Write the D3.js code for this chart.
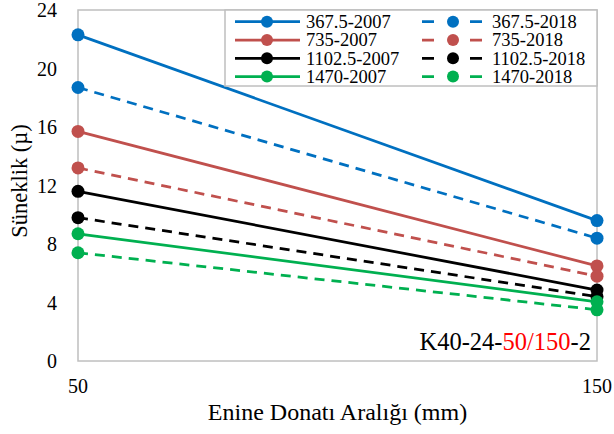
<!DOCTYPE html>
<html>
<head>
<meta charset="utf-8">
<script src="https://cdn.jsdelivr.net/npm/d3@7"></script>
<style>
  body { margin: 0; background: #fff; }
</style>
</head>
<body>
<div id="chart"></div>
<script>
// x values (spacing, mm)
var spacing = [50, 150]
var yTicks = [0, 4, 8, 12, 16, 20, 24]

// series in excel order (legend fills row by row)
var names = ['367.5-2007', '367.5-2018', '735-2007', '735-2018',
             '1102.5-2007', '1102.5-2018', '1470-2007', '1470-2018']
var colors = ['#0070C0', '#0070C0', '#C0504D', '#C0504D',
              '#000000', '#000000', '#00B050', '#00B050']
var dashed = [false, true, false, true, false, true, false, true]
var values = [
  [22.3, 9.6],
  [18.7, 8.4],
  [15.7, 6.5],
  [13.2, 5.8],
  [11.6, 4.85],
  [9.8, 4.4],
  [8.7, 4.05],
  [7.4, 3.5]
]

var width = 614, height = 434
var margin = {top: 10, right: 17, bottom: 73, left: 78}

var svg = d3.select("#chart").append("svg")
  .attr("width", width)
  .attr("height", height)
  .attr("font-family", "'Liberation Serif', 'Times New Roman', Times, serif")

var x = d3.scaleLinear().domain([50, 150]).range([margin.left, width - margin.right])
var y = d3.scaleLinear().domain([0, 24]).range([height - margin.bottom, margin.top])

// plot area outline
svg.append("rect")
  .attr("x", x(50)).attr("y", y(24))
  .attr("width", x(150) - x(50)).attr("height", y(0) - y(24))
  .attr("fill", "none").attr("stroke", "#bfbfbf").attr("stroke-width", 1.5)

// y ticks
svg.append("g").selectAll("text")
  .data(yTicks).enter().append("text")
  .attr("x", x(50) - 21)
  .attr("y", function(d) { return y(d) + 7; })
  .attr("text-anchor", "end")
  .attr("font-size", 20)
  .text(function(d) { return d; })

// x ticks
svg.append("g").selectAll("text")
  .data(spacing).enter().append("text")
  .attr("x", function(d) { return x(d); })
  .attr("y", 393)
  .attr("text-anchor", "middle")
  .attr("font-size", 20)
  .text(function(d) { return d; })

// axis titles
svg.append("text")
  .attr("x", (x(50) + x(150)) / 2)
  .attr("y", 420)
  .attr("text-anchor", "middle")
  .attr("font-size", 24)
  .text("Enine Donatı Aralığı (mm)")

svg.append("text")
  .attr("transform", "translate(27,181)rotate(-90)")
  .attr("text-anchor", "middle")
  .attr("font-size", 22.5)
  .text("Süneklik (µ)")

var line = d3.line()
  .x(function(d, i) { return x(spacing[i]); })
  .y(function(d) { return y(d); })

// lines + markers
var series = svg.append("g").selectAll("g")
  .data(values).enter().append("g")

series.append("path")
  .attr("d", function(d) { return line(d); })
  .attr("fill", "none")
  .attr("stroke", function(d, i) { return colors[i]; })
  .attr("stroke-width", 2.75)
  .attr("stroke-dasharray", function(d, i) { return dashed[i] ? "10,7" : null; })

series.selectAll("circle")
  .data(function(d, i) { return d.map(function(v) { return {v: v, c: colors[i]}; }); })
  .enter().append("circle")
  .attr("cx", function(d, j) { return x(spacing[j]); })
  .attr("cy", function(d) { return y(d.v); })
  .attr("r", 6.5)
  .attr("fill", function(d) { return d.c; })

// annotation
var ann = svg.append("text")
  .attr("x", 591)
  .attr("y", 350)
  .attr("text-anchor", "end")
  .attr("font-size", 24.5)
ann.append("tspan").text("K40-24-")
ann.append("tspan").attr("fill", "#ff0000").text("50/150")
ann.append("tspan").text("-2")

// legend
var legX = 225, legY = 10, legW = x(150) - 225, legH = 76
svg.append("rect")
  .attr("x", legX).attr("y", legY).attr("width", legW).attr("height", legH)
  .attr("fill", "#fff").attr("stroke", "#bfbfbf").attr("stroke-width", 1.5)

var leg = svg.append("g").selectAll("g")
  .data(names).enter().append("g")
  .attr("transform", function(d, i) {
    var col = i % 2, row = Math.floor(i / 2)
    return "translate(" + (235 + col * 187) + "," + (21.7 + row * 18.3) + ")"
  })

leg.append("line")
  .attr("x1", 0).attr("x2", function(d, i) { return dashed[i] ? 61 : 65; })
  .attr("y1", 0).attr("y2", 0)
  .attr("stroke", function(d, i) { return colors[i]; })
  .attr("stroke-width", 2.75)
  .attr("stroke-dasharray", function(d, i) { return dashed[i] ? "12,36" : null; })

leg.append("circle")
  .attr("cx", function(d, i) { return dashed[i] ? 31 : 32; })
  .attr("cy", 0).attr("r", 6)
  .attr("fill", function(d, i) { return colors[i]; })

leg.append("text")
  .attr("x", function(d, i) { return dashed[i] ? 70 : 71; })
  .attr("y", 6.2)
  .attr("font-size", 18.5)
  .text(function(d) { return d; })
</script>
</body>
</html>
